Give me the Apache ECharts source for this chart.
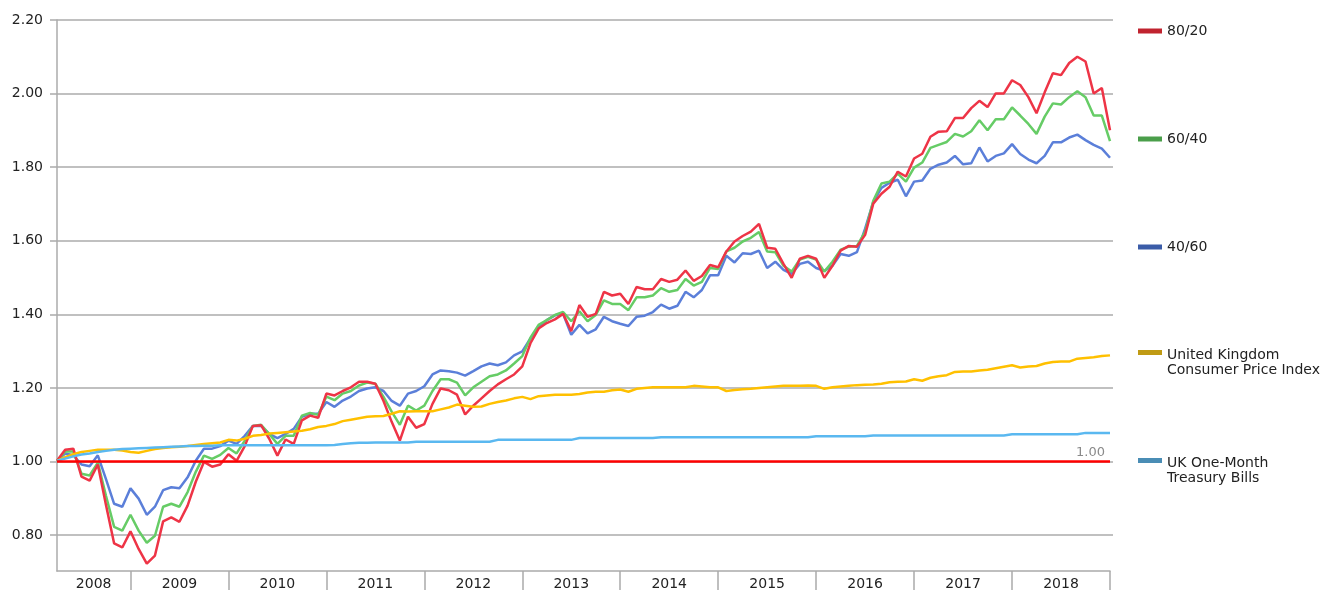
<!DOCTYPE html>
<html>
<head>
<meta charset="utf-8">
<script src="https://cdn.jsdelivr.net/npm/echarts@6/dist/echarts.min.js"></script>
<style>
	html, body { margin: 0; padding: 0; background: #fff; }
	#growth-chart { width: 1326px; height: 591px; }
</style>
</head>
<body>
<div id="growth-chart"></div>
<script>
	// growth of 1, month ends from Mar 2008 to Dec 2018
	const years = [2008, 2009, 2010, 2011, 2012, 2013, 2014, 2015, 2016, 2017, 2018];
	const monthNames = ['Jan', 'Feb', 'Mar', 'Apr', 'May', 'Jun', 'Jul', 'Aug', 'Sep', 'Oct', 'Nov', 'Dec'];
	const yTicks = [0.8, 1.0, 1.2, 1.4, 1.6, 1.8, 2.0, 2.2];

	const mix8020 = [
		1.000, 1.030, 1.033, 0.957, 0.946, 0.990, 0.880, 0.775, 0.764, 0.808,
		0.760, 0.720, 0.742, 0.835, 0.846, 0.834, 0.878, 0.943, 0.997, 0.984,
		0.990, 1.018, 1.000, 1.040, 1.095, 1.097, 1.060, 1.014, 1.058, 1.046,
		1.110, 1.123, 1.117, 1.183, 1.178, 1.190, 1.200, 1.215, 1.215, 1.210,
		1.163, 1.106, 1.055, 1.120, 1.090, 1.100, 1.155, 1.197, 1.192, 1.180,
		1.126, 1.150, 1.170, 1.190, 1.208, 1.222, 1.235, 1.257, 1.320, 1.360,
		1.375, 1.385, 1.400, 1.353, 1.424, 1.392, 1.400, 1.460, 1.450, 1.455,
		1.427, 1.473, 1.467, 1.467, 1.495, 1.487, 1.493, 1.518, 1.490, 1.503,
		1.533, 1.527, 1.570, 1.597, 1.612, 1.624, 1.645, 1.580, 1.577, 1.536,
		1.498, 1.550, 1.558, 1.550, 1.498, 1.531, 1.572, 1.585, 1.583, 1.615,
		1.700, 1.727, 1.746, 1.787, 1.774, 1.823, 1.836, 1.882, 1.896, 1.897,
		1.933, 1.933, 1.960, 1.980, 1.963, 2.000, 2.000, 2.036, 2.023, 1.990,
		1.946, 2.003, 2.055, 2.050, 2.083, 2.100, 2.087, 2.000, 2.015, 1.900
	];
	const mix6040 = [
		1.000, 1.025, 1.025, 0.965, 0.960, 0.995, 0.905, 0.820, 0.810, 0.853,
		0.810, 0.777, 0.796, 0.875, 0.883, 0.875, 0.915, 0.970, 1.014, 1.005,
		1.016, 1.035, 1.020, 1.055, 1.095, 1.098, 1.073, 1.046, 1.068, 1.068,
		1.123, 1.130, 1.125, 1.175, 1.165, 1.183, 1.190, 1.205, 1.213, 1.210,
		1.174, 1.134, 1.098, 1.150, 1.137, 1.150, 1.190, 1.222, 1.222, 1.213,
		1.178, 1.200, 1.215, 1.230, 1.235, 1.246, 1.265, 1.285, 1.335, 1.370,
		1.383, 1.397, 1.405, 1.380, 1.407, 1.380, 1.397, 1.437, 1.427, 1.427,
		1.410, 1.445, 1.445, 1.450, 1.470, 1.460, 1.465, 1.495, 1.477, 1.487,
		1.525, 1.522, 1.570, 1.580, 1.597, 1.607, 1.623, 1.570, 1.568, 1.531,
		1.515, 1.548, 1.555, 1.548, 1.515, 1.542, 1.575, 1.583, 1.585, 1.623,
		1.708, 1.755, 1.760, 1.782, 1.760, 1.798, 1.812, 1.852, 1.860, 1.868,
		1.890, 1.883, 1.897, 1.927, 1.900, 1.930, 1.930, 1.962, 1.940, 1.917,
		1.890, 1.937, 1.973, 1.970, 1.990, 2.006, 1.990, 1.940, 1.940, 1.870
	];
	const mix4060 = [
		1.000, 1.020, 1.015, 0.990, 0.985, 1.015, 0.950, 0.883, 0.875, 0.925,
		0.897, 0.853, 0.875, 0.920, 0.928, 0.925, 0.955, 1.000, 1.033, 1.033,
		1.040, 1.055, 1.046, 1.068, 1.095, 1.095, 1.073, 1.062, 1.073, 1.087,
		1.120, 1.128, 1.128, 1.160, 1.147, 1.164, 1.175, 1.190, 1.197, 1.200,
		1.190, 1.163, 1.150, 1.183, 1.190, 1.203, 1.235, 1.246, 1.244, 1.240,
		1.232, 1.244, 1.257, 1.265, 1.260, 1.268, 1.287, 1.298, 1.333, 1.363,
		1.383, 1.396, 1.400, 1.343, 1.370, 1.347, 1.358, 1.392, 1.380, 1.373,
		1.367, 1.392, 1.395, 1.405, 1.425, 1.414, 1.422, 1.460, 1.445, 1.465,
		1.505, 1.505, 1.558, 1.540, 1.565, 1.563, 1.572, 1.525, 1.542, 1.520,
		1.509, 1.536, 1.542, 1.525, 1.517, 1.531, 1.563, 1.558, 1.568, 1.632,
		1.705, 1.743, 1.757, 1.765, 1.720, 1.760, 1.763, 1.795, 1.806, 1.812,
		1.830, 1.807, 1.810, 1.853, 1.815, 1.830, 1.837, 1.862, 1.835, 1.820,
		1.810, 1.830, 1.867, 1.867, 1.880, 1.888, 1.873, 1.860, 1.850, 1.825
	];
	const ukCpi = [
		1.000, 1.010, 1.018, 1.024, 1.027, 1.030, 1.030, 1.030, 1.028, 1.024,
		1.022, 1.027, 1.032, 1.035, 1.037, 1.038, 1.040, 1.043, 1.046, 1.048,
		1.050, 1.057, 1.055, 1.060, 1.068, 1.070, 1.074, 1.076, 1.078, 1.080,
		1.082, 1.086, 1.092, 1.095, 1.100, 1.108, 1.112, 1.116, 1.120, 1.121,
		1.122, 1.128, 1.135, 1.134, 1.135, 1.135, 1.135, 1.140, 1.145, 1.153,
		1.150, 1.147, 1.148, 1.155, 1.160, 1.164, 1.170, 1.174, 1.168, 1.176,
		1.178, 1.180, 1.180, 1.180, 1.182, 1.186, 1.188, 1.188, 1.192, 1.194,
		1.188, 1.196, 1.198, 1.200, 1.200, 1.200, 1.200, 1.200, 1.204, 1.202,
		1.200, 1.200, 1.190, 1.193, 1.195, 1.196, 1.198, 1.200, 1.202, 1.204,
		1.204, 1.204, 1.205, 1.204, 1.196, 1.200, 1.202, 1.204, 1.206, 1.207,
		1.208, 1.210, 1.214, 1.215, 1.216, 1.222, 1.218, 1.226, 1.230, 1.233,
		1.242, 1.243, 1.243, 1.246, 1.248, 1.252, 1.256, 1.260, 1.254, 1.257,
		1.258, 1.265, 1.269, 1.270, 1.270, 1.278, 1.280, 1.282, 1.285, 1.287
	];
	const ukTbills = [
		1.000, 1.006, 1.012, 1.017, 1.020, 1.024, 1.027, 1.030, 1.032, 1.033,
		1.034, 1.035, 1.036, 1.037, 1.038, 1.039, 1.040, 1.040, 1.041, 1.041,
		1.042, 1.042, 1.042, 1.042, 1.042, 1.042, 1.042, 1.042, 1.042, 1.042,
		1.042, 1.042, 1.042, 1.042, 1.043, 1.046, 1.048, 1.049, 1.049, 1.050,
		1.050, 1.050, 1.050, 1.050, 1.052, 1.052, 1.052, 1.052, 1.052, 1.052,
		1.052, 1.052, 1.052, 1.052, 1.057, 1.057, 1.057, 1.057, 1.057, 1.057,
		1.057, 1.057, 1.057, 1.057, 1.062, 1.062, 1.062, 1.062, 1.062, 1.062,
		1.062, 1.062, 1.062, 1.062, 1.064, 1.064, 1.064, 1.064, 1.064, 1.064,
		1.064, 1.064, 1.064, 1.064, 1.064, 1.064, 1.064, 1.064, 1.064, 1.064,
		1.064, 1.064, 1.064, 1.067, 1.067, 1.067, 1.067, 1.067, 1.067, 1.067,
		1.069, 1.069, 1.069, 1.069, 1.069, 1.069, 1.069, 1.069, 1.069, 1.069,
		1.069, 1.069, 1.069, 1.069, 1.069, 1.069, 1.069, 1.072, 1.072, 1.072,
		1.072, 1.072, 1.072, 1.072, 1.072, 1.072, 1.076, 1.076, 1.076, 1.076
	];

	let months = [];
	years.forEach((y) => {
		monthNames.forEach((m, k) => {
			if(y > 2008 || k >= 2) {
				months.push(m + ' ' + y);
			}
		});
	});

	const fontFamily = 'DejaVu Sans, Liberation Sans, Arial, sans-serif';
	const textColor = '#222222';
	const gridColor = '#ababab';

	const seriesDefs = [
		{ name: '40/60', data: mix4060, color: '#5b7fd9', legendColor: '#3b5ca8', label: '40/60' },
		{ name: '60/40', data: mix6040, color: '#66cc66', legendColor: '#4a9e4a', label: '60/40' },
		{ name: '80/20', data: mix8020, color: '#ee3446', legendColor: '#c0232f', label: '80/20' },
		{ name: 'United Kingdom Consumer Price Index', data: ukCpi, color: '#ffc000', legendColor: '#c09b14', label: 'United Kingdom\nConsumer Price Index' },
		{ name: 'UK One-Month Treasury Bills', data: ukTbills, color: '#5ab8f0', legendColor: '#4a8db5', label: 'UK One-Month\nTreasury Bills' }
	];
	// legend icon centre y for each entry, top to bottom
	const legendRows = [
		{ name: '80/20', y: 31 },
		{ name: '60/40', y: 139 },
		{ name: '40/60', y: 247 },
		{ name: 'United Kingdom Consumer Price Index', y: 355 },
		{ name: 'UK One-Month Treasury Bills', y: 463 }
	];
	// bar on the first line of a two-line label (empty segment stretches the box to 30px)
	const topBarIcon = 'path://M0,5h24v5h-24z M0,30h24';

	function isDec(index) {
		return months[index].indexOf('Dec') === 0;
	}
	function isMidYear(index) {
		return index === 4 || months[index].indexOf('Jun') === 0;
	}

	let chart = echarts.init(document.getElementById('growth-chart'));

	const option = {
		animation: false,
		backgroundColor: '#ffffff',
		textStyle: { fontFamily: fontFamily },
		grid: [
			{ left: 57, right: 216, top: 20, bottom: 19 },
			// grid used only for labels and gridlines 0.80 .. 2.20
			{ left: 57, right: 213, top: 20, height: 552 * 1.4 / 1.5 }
		],
		legend: legendRows.map((row) => {
			const def = seriesDefs.find((d) => d.name === row.name);
			const twoLines = def.label.indexOf('\n') > -1;
			return {
				orient: 'vertical',
				left: 1138,
				top: row.y - 7.5,
				padding: 0,
				icon: twoLines ? topBarIcon : 'rect',
				itemWidth: 24,
				itemHeight: twoLines ? 30 : 5,
				itemGap: 0,
				selectedMode: false,
				data: [{ name: def.name, itemStyle: { color: def.legendColor, borderWidth: 0 } }],
				formatter: () => def.label,
				textStyle: {
					color: textColor,
					fontSize: 14,
					fontFamily: fontFamily,
					lineHeight: 15
				}
			};
		}),
		xAxis: [{
				type: 'category',
				gridIndex: 0,
				data: months,
				boundaryGap: false,
				axisLine: { show: true, lineStyle: { color: gridColor, width: 1.5 } },
				axisTick: {
					show: true,
					length: 19,
					interval: (index) => isDec(index),
					lineStyle: { color: gridColor, width: 1.5 }
				},
				axisLabel: {
					interval: (index) => isMidYear(index),
					margin: 6,
					color: textColor,
					fontSize: 14,
					fontFamily: fontFamily,
					formatter: (value, index) => {
						const y = value.split(' ')[1];
						return index === 4 ? '{first|' + y + '}' : y;
					},
					rich: {
						first: { fontSize: 14, fontFamily: fontFamily, color: textColor, padding: [0, 0, 0, 8] }
					}
				},
				splitLine: { show: false }
			},
			{
				type: 'value',
				gridIndex: 1,
				min: 0,
				max: 1,
				show: false
			}
		],
		yAxis: [{
				type: 'value',
				gridIndex: 0,
				min: 0.7,
				max: 2.2,
				axisLine: { show: true, lineStyle: { color: gridColor, width: 1.5 } },
				axisTick: { show: false },
				axisLabel: { show: false },
				splitLine: { show: false }
			},
			{
				type: 'value',
				gridIndex: 1,
				min: yTicks[0],
				max: yTicks[yTicks.length - 1],
				interval: 0.2,
				axisLine: { show: false },
				axisTick: { show: true, length: 7, lineStyle: { color: gridColor, width: 1.5 } },
				axisLabel: {
					margin: 14,
					color: textColor,
					fontSize: 14,
					fontFamily: fontFamily,
					formatter: (v) => v.toFixed(2)
				},
				splitLine: { show: true, lineStyle: { color: gridColor, width: 1.5 } }
			}
		],
		series: seriesDefs.map((def, i) => {
			let s = {
				name: def.name,
				type: 'line',
				xAxisIndex: 0,
				yAxisIndex: 0,
				data: def.data,
				symbol: 'none',
				smooth: false,
				color: def.color,
				lineStyle: { color: def.color, width: 2.5 }
			};
			if(i === seriesDefs.length - 1) {
				s.markLine = {
					silent: true,
					symbol: 'none',
					data: [{ yAxis: 1.0 }],
					lineStyle: { color: '#ff0000', width: 2.5, type: 'solid' },
					label: {
						show: true,
						position: 'insideEndTop',
						formatter: '1.00',
						color: '#8a8a8a',
						fontSize: 13,
						fontFamily: fontFamily,
						distance: [5, 2]
					}
				};
			}
			return s;
		})
	};

	chart.setOption(option);
	window.addEventListener('resize', function() {
		chart.resize();
	});
</script>
</body>
</html>
